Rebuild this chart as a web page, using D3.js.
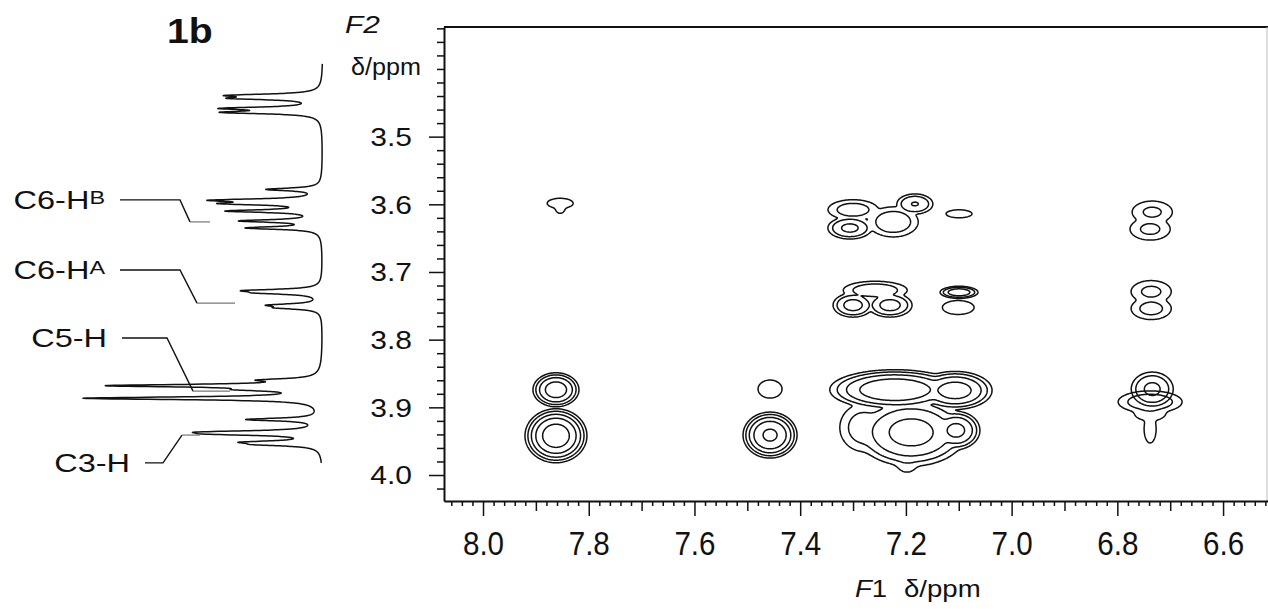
<!DOCTYPE html>
<html>
<head>
<meta charset="utf-8">
<script src="https://cdn.jsdelivr.net/npm/d3@7"></script>
<style>
  html, body { margin: 0; padding: 0; background: #fff; }
  svg { display: block; font-family: "Liberation Sans", Arial, Helvetica, sans-serif; }
</style>
</head>
<body>
<svg id="chart" width="1268" height="609"></svg>
<script>
// ---- Axis tick labels (ppm) ----
const f1TickLabels = ["8.0", "7.8", "7.6", "7.4", "7.2", "7.0", "6.8", "6.6"];
const f2TickLabels = ["3.5", "3.6", "3.7", "3.8", "3.9", "4.0"];

// ---- 2D cross peaks: [F1 ppm, F2 ppm, intensity, half-extent F1 (ppm), half-extent F2 (ppm)] ----
const crossPeaksPositive = [
  // 7.86 column
  [7.854, 3.5985, 1.4, 0.0246, 0.0074],
  [7.854, 3.6045, 1.3, 0.0095, 0.0089],
  [7.862, 3.874, 5.2, 0.0435, 0.0251],
  [7.862, 3.942, 8.5, 0.0586, 0.0399],
  // 7.46 column
  [7.457, 3.873, 1.4, 0.0227, 0.0133],
  [7.457, 3.941, 7.0, 0.0511, 0.0340],
  // 7.3-7.1 region, F2 3.87-3.98
  [7.221, 3.874, 6.0, 0.1230, 0.0296],
  [7.107, 3.875, 5.0, 0.0700, 0.0281],
  [7.190, 3.937, 4.8, 0.1040, 0.0500],
  [7.105, 3.934, 4.6, 0.0450, 0.0280],
  [7.280, 3.930, 2.0, 0.0450, 0.0350],
  [7.198, 3.975, 1.5, 0.0227, 0.0207],
  // 6.73 column
  [6.734, 3.873, 2.8, 0.0397, 0.0251],
  // F2 3.73-3.75 row
  [7.258, 3.727, 2.2, 0.0605, 0.0133],
  [7.300, 3.749, 3.0, 0.0378, 0.0177],
  [7.230, 3.749, 3.0, 0.0416, 0.0177],
  [7.0995, 3.730, 3.5, 0.0359, 0.0089],
  [7.101, 3.7525, 1.4, 0.0300, 0.0103],
  [6.736, 3.729, 1.75, 0.0380, 0.0163],
  [6.736, 3.754, 1.85, 0.0380, 0.0163],
  // F2 3.60-3.64 row
  [7.306, 3.635, 2.8, 0.0416, 0.0163],
  [7.300, 3.608, 2.0, 0.0473, 0.0148],
  [7.224, 3.626, 2.2, 0.0473, 0.0222],
  [7.183, 3.5995, 2.6, 0.0340, 0.0148],
  [7.0995, 3.614, 1.3, 0.0246, 0.0059],
  [6.734, 3.6115, 1.72, 0.0380, 0.0163],
  [6.738, 3.6366, 1.75, 0.0380, 0.0163]
];
const crossPeaksNegative = [
  [6.738, 3.892, 2.2, 0.0605, 0.0163],
  [6.738, 3.908, 1.5, 0.0300, 0.0120],
  [6.738, 3.932, 1.4, 0.0114, 0.0207]
];
const contourLevels = [1, 1.6, 2.56, 4.1, 6.55, 10.5];

// ---- 1D 1H projection: [ppm, intensity] ----
const protonLines = [
  [3.4391, 33], [3.4435, 31], [3.4583, 37], [3.4642, 37],
  [3.578, 22], [3.594, 40], [3.599, 34], [3.610, 37], [3.6246, 32], [3.635, 30],
  [3.7275, 27], [3.731, 20], [3.749, 19], [3.753, 15],
  [3.8597, 20], [3.868, 84], [3.874, 22], [3.8866, 97],
  [3.918, 30], [3.9365, 38], [3.9395, 33], [3.9515, 26], [3.955, 20]
];
const lineHalfWidth = 0.0024;
const spectrumRange = [3.3925, 3.982];

// ---- Assignments ----
const assignNames = ["C6-H", "C6-H", "C5-H", "C3-H"];
const assignSup = ["B", "A", "", ""];
const assignLabelPpm = [3.5935, 3.697, 3.7975, 3.982];
const assignTargetPpm = [3.626, 3.746, 3.876, 3.941];

// ================= drawing =================
const svg = d3.select("#chart");
const ink = "#111";

const plot = { left: 444, right: 1268, top: 27, bottom: 501 };
const x = d3.scaleLinear().domain([8.0738, 6.515]).range([plot.left, plot.right]);
const y = d3.scaleLinear().domain([3.338, 4.0384]).range([plot.top, plot.bottom]);
const inten = d3.scaleLinear().domain([0, 100]).range([323, 82]);

svg.append("clipPath").attr("id", "plotClip")
  .append("rect").attr("x", plot.left).attr("y", plot.top)
  .attr("width", plot.right - plot.left).attr("height", plot.bottom - plot.top);

// ---- contour field: super-Gaussian peaks merged with a smooth maximum ----
const step = 1;
const nx = Math.round((plot.right - plot.left) / step) + 1;
const ny = Math.round((plot.bottom - plot.top) / step) + 1;
const gridF1 = d3.range(nx).map(i => x.invert(plot.left + i * step));
const gridF2 = d3.range(ny).map(j => y.invert(plot.top + j * step));
const shapeExp = 1.25;   // (r^2)^1.25 = r^2.5
const mergePow = 6;

function field(peaks) {
  const acc = new Float64Array(nx * ny);
  for (const [c1, c2, a, w1, w2] of peaks) {
    const la = Math.log(a);
    for (let j = 0; j < ny; j++) {
      const dy = (gridF2[j] - c2) / w2;
      const dy2 = dy * dy;
      if (dy2 > 9) continue;
      for (let i = 0; i < nx; i++) {
        const dx = (gridF1[i] - c1) / w1;
        const r2 = dx * dx + dy2;
        if (r2 > 9) continue;
        const v = a * Math.exp(-la * Math.pow(r2, shapeExp));
        acc[j * nx + i] += Math.pow(v, mergePow);
      }
    }
  }
  for (let k = 0; k < acc.length; k++) acc[k] = Math.pow(acc[k], 1 / mergePow);
  return acc;
}

const contourGen = d3.contours().size([nx, ny]).thresholds(contourLevels);
const proj = d3.geoIdentity().scale(step)
  .translate([plot.left - step / 2, plot.top - step / 2]);
const contourPath = d3.geoPath(proj);

const cg = svg.append("g").attr("clip-path", "url(#plotClip)");
[crossPeaksPositive, crossPeaksNegative].forEach(peaks => {
  cg.append("g").selectAll("path")
    .data(contourGen(field(peaks)))
    .join("path")
    .attr("d", contourPath)
    .attr("fill", "none")
    .attr("stroke", ink)
    .attr("stroke-width", 1.5)
    .attr("stroke-linejoin", "round");
});

// ---- frame ----
svg.append("line").attr("x1", plot.left).attr("x2", plot.right)
  .attr("y1", plot.top).attr("y2", plot.top)
  .attr("stroke", ink).attr("stroke-width", 2.2);
svg.append("line").attr("x1", plot.right - 1).attr("x2", plot.right - 1)
  .attr("y1", plot.top).attr("y2", plot.bottom)
  .attr("stroke", "#bbb").attr("stroke-width", 1);

// ---- F1 axis ----
const f1Major = f1TickLabels.map(Number);
const f1Mid = d3.range(7).map(i => 7.9 - i * 0.2);
const f1Minor = d3.range(0, 80).map(i => +(6.52 + i * 0.02).toFixed(2))
  .filter(v => v < 8.07 && Math.round(v * 10) / 10 !== v);

function styleAxis(g) {
  g.select(".domain").attr("stroke", ink).attr("stroke-width", 2);
  g.selectAll(".tick line").attr("stroke", ink).attr("stroke-width", 1.5);
}

svg.append("g").attr("transform", `translate(0,${plot.bottom})`)
  .call(d3.axisBottom(x).tickValues(f1Minor).tickSize(5).tickSizeOuter(0).tickFormat(""))
  .call(styleAxis);
svg.append("g").attr("transform", `translate(0,${plot.bottom})`)
  .call(d3.axisBottom(x).tickValues(f1Mid).tickSize(10).tickSizeOuter(0).tickFormat(""))
  .call(g => g.select(".domain").remove())
  .call(styleAxis);
svg.append("g").attr("transform", `translate(0,${plot.bottom})`)
  .call(d3.axisBottom(x).tickValues(f1Major).tickSize(15).tickSizeOuter(0)
        .tickFormat((d, i) => f1TickLabels[i]))
  .call(g => g.select(".domain").remove())
  .call(styleAxis)
  .call(g => g.selectAll(".tick text")
    .attr("y", 54).attr("dy", null)
    .attr("font-size", 34).attr("fill", ink)
    .attr("font-family", "Liberation Sans, Arial, sans-serif")
    .attr("transform", "scale(0.87,1)"));

// ---- F2 axis ----
const f2Major = f2TickLabels.map(Number);
const f2Minor = d3.range(0, 36).map(i => +(3.34 + i * 0.02).toFixed(2))
  .filter(v => v <= 4.038 && !f2Major.includes(v));

svg.append("g").attr("transform", `translate(${plot.left},0)`)
  .call(d3.axisLeft(y).tickValues(f2Minor).tickSize(7).tickSizeOuter(0).tickFormat(""))
  .call(styleAxis);
svg.append("g").attr("transform", `translate(${plot.left},0)`)
  .call(d3.axisLeft(y).tickValues(f2Major).tickSize(15).tickSizeOuter(0)
        .tickFormat((d, i) => f2TickLabels[i]))
  .call(g => g.select(".domain").remove())
  .call(styleAxis)
  .call(g => g.selectAll(".tick text")
    .attr("x", -32 / 1.2).attr("dy", "0.35em")
    .attr("font-size", 25).attr("fill", ink)
    .attr("font-family", "Liberation Sans, Arial, sans-serif")
    .attr("transform", "scale(1.2,1)"));

// axis titles
svg.append("g").attr("transform", "translate(345,33) scale(1.3,1)")
  .append("text").attr("font-size", 23).attr("font-style", "italic").attr("fill", ink).text("F2");
svg.append("g").attr("transform", "translate(351,75) scale(1.05,1)")
  .append("text").attr("font-size", 24).attr("fill", ink).text("δ/ppm");

const f1Title = svg.append("g").attr("transform", "translate(855,597) scale(1.2,1)")
  .append("text").attr("font-size", 23).attr("fill", ink);
f1Title.append("tspan").attr("font-style", "italic").text("F");
f1Title.append("tspan").text("1");
f1Title.append("tspan").attr("dx", 14).text("δ/ppm");

// panel tag
svg.append("g").attr("transform", "translate(167,43) scale(1.12,1)")
  .append("text").attr("font-size", 35).attr("font-weight", "bold").attr("fill", ink).text("1b");

// ---- 1D projection along F2 ----
const nPts = Math.round((spectrumRange[1] - spectrumRange[0]) / 0.0002);
const trace = d3.range(nPts + 1).map(k => {
  const p = spectrumRange[0] + k * 0.0002;
  let v = 0;
  for (const [c, h] of protonLines) {
    const u = (p - c) / lineHalfWidth;
    v += h / (1 + u * u);
  }
  return [p, v];
});
svg.append("path")
  .datum(trace)
  .attr("d", d3.line().x(d => inten(d[1])).y(d => y(d[0])))
  .attr("fill", "none").attr("stroke", ink).attr("stroke-width", 1.5)
  .attr("stroke-linejoin", "round");

// ---- assignment labels with leader lines ----
const leaderX = [[120, 180, 190, 210], [120, 180, 197, 235], [122, 167, 193, 230], [145, 163, 182, 200]];
assignNames.forEach((name, i) => {
  const yl = y(assignLabelPpm[i]);
  const yt = y(assignTargetPpm[i]);
  const [x0, x1, x2, x3] = leaderX[i];
  svg.append("path")
    .attr("d", d3.line()([[x0, yl], [x1, yl], [x2, yt]]))
    .attr("fill", "none").attr("stroke", ink).attr("stroke-width", 1.4);
  svg.append("line").attr("x1", x2).attr("x2", x3).attr("y1", yt).attr("y2", yt)
    .attr("stroke", "#777").attr("stroke-width", 1.2);
  const t = svg.append("g").attr("transform", `translate(${x0 - 15},${yl + 9}) scale(1.3,1)`)
    .append("text").attr("text-anchor", "end").attr("font-size", 25).attr("fill", ink);
  t.append("tspan").text(name);
  if (assignSup[i]) t.append("tspan").attr("font-size", 18).attr("dy", -5).text(assignSup[i]);
});
</script>
</body>
</html>
